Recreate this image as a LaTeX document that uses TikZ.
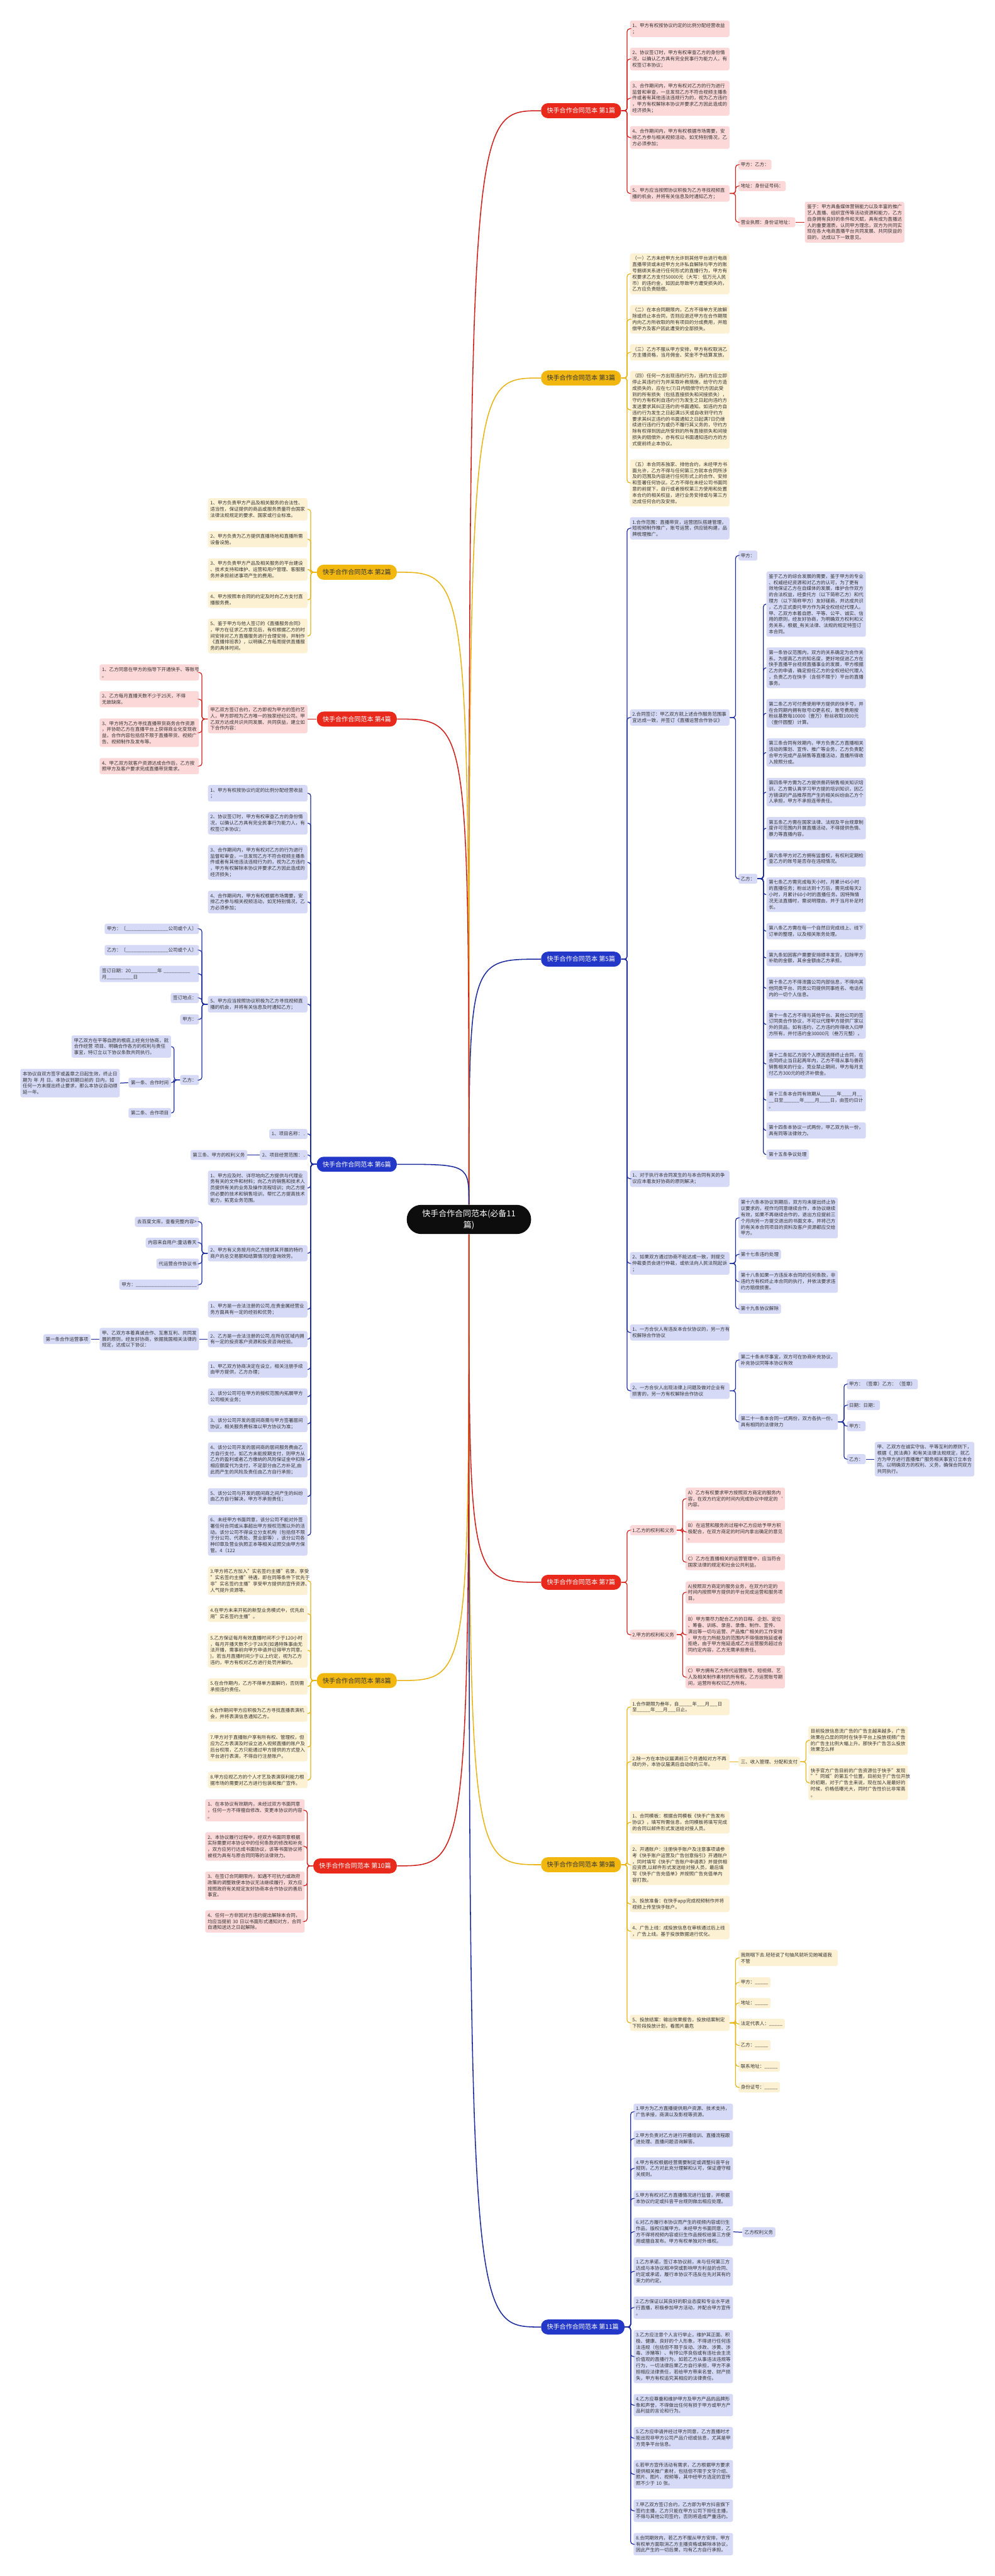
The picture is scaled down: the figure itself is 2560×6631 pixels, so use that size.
\documentclass[tikz,border=0pt]{standalone}
\usepackage{fontspec}
\setmainfont{Noto Sans CJK SC}
\definecolor{ink}{HTML}{333333}
\definecolor{redhead}{HTML}{E8291C}
\definecolor{yellowhead}{HTML}{F1B70E}
\definecolor{bluehead}{HTML}{2338C8}
\definecolor{redline}{HTML}{D0201C}
\definecolor{yellowline}{HTML}{E9B516}
\definecolor{blueline}{HTML}{1C2C9E}
\definecolor{redfill}{HTML}{FCD8D8}
\definecolor{yellowfill}{HTML}{FDF1D3}
\definecolor{bluefill}{HTML}{D6DAF7}
\begin{document}
\begin{tikzpicture}[x=0.1mm, y=-0.1mm,
  every node/.style={text=ink, font=\fontsize{3.47pt}{4.5pt}\selectfont},
  leaf/.style={rounded corners=0.5mm, text width=24.4mm, align=left, inner xsep=0.6mm, inner ysep=0.72mm},
  tag/.style={rounded corners=0.5mm, align=left, inner xsep=0.6mm, inner ysep=0.72mm},
  hdr/.style={rounded corners=1.75mm, minimum height=3.5mm, inner xsep=1.5mm, font=\fontsize{4.64pt}{5.5pt}\selectfont},
  root/.style={fill=black!95, text=white, rounded corners=3.7mm, minimum width=32mm, minimum height=7.5mm, align=center, font=\fontsize{5.97pt}{8.25pt}\selectfont},
  rh/.style={fill=redhead, text=white}, yh/.style={fill=yellowhead, text=ink}, bh/.style={fill=bluehead, text=white},
  rf/.style={fill=redfill}, yf/.style={fill=yellowfill}, bf/.style={fill=bluefill},
  rl/.style={draw=redline, line width=0.2mm, rounded corners=0.7mm},
  yl/.style={draw=yellowline, line width=0.2mm, rounded corners=0.7mm},
  bl/.style={draw=blueline, line width=0.2mm, rounded corners=0.7mm}]
\fill[white] (0,0) rectangle (2560,6631);
\useasboundingbox (0,0) rectangle (2560,6631);

\node[root] (root) at (1207,3139) {快手合作合同范本(必备11\\篇)};

% headers
\node[hdr, rh, anchor=west] (h1) at (1392,285) {快手合作合同范本 第1篇};
\node[hdr, yh, anchor=west] (h3) at (1392,973) {快手合作合同范本 第3篇};
\node[hdr, bh, anchor=west] (h5) at (1392,2469) {快手合作合同范本 第5篇};
\node[hdr, rh, anchor=west] (h7) at (1392,4073) {快手合作合同范本 第7篇};
\node[hdr, yh, anchor=west] (h9) at (1392,4800) {快手合作合同范本 第9篇};
\node[hdr, bh, anchor=west] (h11) at (1392,5990) {快手合作合同范本 第11篇};
\node[hdr, yh, anchor=east] (h2) at (1022,1473) {快手合作合同范本 第2篇};
\node[hdr, rh, anchor=east] (h4) at (1022,1851) {快手合作合同范本 第4篇};
\node[hdr, bh, anchor=east] (h6) at (1022,2997) {快手合作合同范本 第6篇};
\node[hdr, yh, anchor=east] (h8) at (1022,4326) {快手合作合同范本 第8篇};
\node[hdr, rh, anchor=east] (h10) at (1022,4803) {快手合作合同范本 第10篇};

\draw[redline, line width=0.25mm] (root.north) .. controls (root.north |- h1.west) .. (h1.west);
\draw[yellowline, line width=0.25mm] (root.north) .. controls (root.north |- h3.west) .. (h3.west);
\draw[blueline, line width=0.25mm] (root.north) .. controls (root.north |- h5.west) .. (h5.west);
\draw[redline, line width=0.25mm] (root.south) .. controls (root.south |- h7.west) .. (h7.west);
\draw[yellowline, line width=0.25mm] (root.south) .. controls (root.south |- h9.west) .. (h9.west);
\draw[blueline, line width=0.25mm] (root.south) .. controls (root.south |- h11.west) .. (h11.west);
\draw[yellowline, line width=0.25mm] (root.north) .. controls (root.north |- h2.east) .. (h2.east);
\draw[redline, line width=0.25mm] (root.north) .. controls (root.north |- h4.east) .. (h4.east);
\draw[blueline, line width=0.25mm] (root.north) .. controls (root.north |- h6.east) .. (h6.east);
\draw[yellowline, line width=0.25mm] (root.south) .. controls (root.south |- h8.east) .. (h8.east);
\draw[redline, line width=0.25mm] (root.south) .. controls (root.south |- h10.east) .. (h10.east);

% 第1篇
\node[leaf, rf, anchor=west] (a1) at (1621,74) {1、甲方有权按协议约定的比例分配经营收益\\；};
\node[leaf, rf, anchor=west] (a2) at (1621,152) {2、协议签订时，甲方有权审查乙方的身份情\\况，以确认乙方具有完全民事行为能力人，有\\权签订本协议；};
\node[leaf, rf, anchor=west] (a3) at (1621,253) {3、合作期间内，甲方有权对乙方的行为进行\\监督和审查，一旦发现乙方不符合视频主播条\\件或者有其他违法违规行为的，视为乙方违约\\，甲方有权解除本协议并要求乙方因此造成的\\经济损失；};
\node[leaf, rf, anchor=west] (a4) at (1621,354) {4、合作期间内，甲方有权根据市场需要，安\\排乙方参与相关视频活动，如无特别情况，乙\\方必须参加；};
\node[leaf, rf, anchor=west] (a5) at (1621,498) {5、甲方应当按照协议积极为乙方寻找视频直\\播的机会，并将有关信息及时通知乙方；};
\node[tag, rf, anchor=west] (a51) at (1900,424) {甲方：乙方：};
\node[tag, rf, anchor=west] (a52) at (1900,479) {地址：身份证号码：};
\node[tag, rf, anchor=west] (a53) at (1900,572) {营业执照：身份证地址：};
\node[leaf, rf, anchor=west] (a531) at (2071,572) {鉴于：甲方具备媒体营销能力以及丰富的推广\\艺人直播、组织宣传等活动资源和能力，乙方\\自身拥有良好的条件和天赋，具有成为直播达\\人的重要潜质，认同甲方理念，双方为共同实\\现在各大电商直播平台共同发展、共同获益的\\目的，达成以下一致意见。};
\foreach \c in {a1,a2,a3,a4,a5} \draw[rl] (h1.east) -- ++(1.5mm,0) |- (\c.west);
\foreach \c in {a51,a52,a53} \draw[rl] (a5.east) -- ++(1.5mm,0) |- (\c.west);
\draw[rl] (a53.east) -- (a531.west);

% 第3篇
\node[leaf, yf, anchor=west] (b1) at (1621,705) {（一）乙方未经甲方允许到其他平台进行电商\\直播带货或未经甲方允许私自解除与甲方的账\\号捆绑关系进行任何形式的直播行为，甲方有\\权要求乙方支付50000元（大写：伍万元人民\\币）的违约金，如因此导致甲方遭受损失的，\\乙方应负责赔偿。};
\node[leaf, yf, anchor=west] (b2) at (1621,822) {（二）在本合同期限内，乙方不得单方无故解\\除或终止本合同，否则应退还甲方在合作期限\\内向乙方所收取的所有项目的分成费用，并赔\\偿甲方及客户因此遭受的全部损失。};
\node[leaf, yf, anchor=west] (b3) at (1621,907) {（三）乙方不服从甲方安排，甲方有权取消乙\\方主播资格，当月佣金、奖金不予结算发放。};
\node[leaf, yf, anchor=west] (b4) at (1621,1055) {（四）任何一方出现违约行为，违约方应立即\\停止其违约行为并采取补救措施，给守约方造\\成损失的，应在七(7)日内赔偿守约方因此受\\到的所有损失（包括直接损失和间接损失），\\守约方有权利自违约行为发生之日起向违约方\\发送要求其纠正违约的书面通知。如违约方自\\违约行为发生之日起满15天或自收到守约方\\要求其纠正违约的书面通知之日起满7日仍继\\续进行违约行为或仍不履行其义务的，守约方\\除有权得到因此所受到的所有直接损失和间接\\损失的赔偿外，亦有权以书面通知违约方的方\\式提前终止本协议。};
\node[leaf, yf, anchor=west] (b5) at (1621,1243) {（五）本合同系独家、排他合约，未经甲方书\\面允许，乙方不得与任何第三方就本合同所涉\\及的范围及内容进行任何形式上的合作、安排\\和签署任何协议。乙方不得在未经公司书面同\\意的前提下，自行或者授权第三方使用和处置\\本合约的相关权益，进行业务安排或与第三方\\达成任何合约及安排。};
\foreach \c in {b1,b2,b3,b4,b5} \draw[yl] (h3.east) -- ++(1.5mm,0) |- (\c.west);

% 第5篇
\node[leaf, bf, anchor=west] (c1) at (1621,1360) {1.合作范围：直播带货，运营团队搭建管理，\\短视频制作推广，账号运营，供应链构建，品\\牌梳理推广。};
\node[leaf, bf, anchor=west] (c2) at (1621,1847) {2.合同签订：甲乙双方就上述合作服务范围事\\宜达成一致，并签订《直播运营合作协议》};
\node[leaf, bf, anchor=west] (c3) at (1621,3034) {1、对于执行本合同发生的与本合同有关的争\\议应本着友好协商的原则解决；};
\node[leaf, bf, anchor=west] (c4) at (1621,3252) {2、如果双方通过协商不能达成一致，则提交\\仲裁委员会进行仲裁，或依法向人民法院起诉\\；};
\node[leaf, bf, anchor=west] (c5) at (1621,3430) {1、一方合伙人有违反本合伙协议的，另一方有\\权解除合作协议};
\node[leaf, bf, anchor=west] (c6) at (1621,3580) {2、一方合伙人出现法律上问题及做对企业有\\损害的，另一方有权解除合作协议};
\node[tag, bf, anchor=west] (c21) at (1900,1430) {甲方：};
\node[tag, bf, anchor=west] (c22) at (1900,2262) {乙方：};
\node[leaf, bf, anchor=west] (k0) at (1972,1555) {鉴于乙方的综合发展的需要，鉴于甲方的专业\\、权威经纪资源和对乙方的认可，为了更有\\效地保证乙方在自媒体的发展，维护合作双方\\的合法权益，经委托方（以下简称乙方）和代\\理方（以下简称甲方）友好磋商，并达成共识\\，乙方正式委托甲方作为其全权经纪代理人。\\甲、乙双方本着自愿、平等、公平、诚实、信\\用的原则，经友好协商，为明确双方权利和义\\务关系，根据\_有关法律、法规的规定特签订\\本合同。};
\node[leaf, bf, anchor=west] (k1) at (1972,1719) {第一条协议范围内，双方的关系确定为合作关\\系。为提高乙方的知名度，更好地促进乙方在\\快手直播平台视频直播事业的发展，甲方根据\\乙方的申请，确定担任乙方的全权经纪代理人\\，负责乙方在快手（含但不限于）平台的直播\\事务。};
\node[leaf, bf, anchor=west] (k2) at (1972,1836) {第二条乙方可付费使用甲方提供的快手号，并\\在合同期内拥有账号ID更名权，账号费用按\\粉丝基数每10000（壹万）粉丝收取1000元\\（壹仟圆整）计算。};
\node[leaf, bf, anchor=west] (k3) at (1972,1937) {第三条合同有效期内，甲方负责乙方直播相关\\活动的策划、宣传、推广等业务，乙方负责配\\合甲方完成产品销售等直播活动，直播所得收\\入按照分成。};
\node[leaf, bf, anchor=west] (k4) at (1972,2039) {第四条甲方需为乙方提供兽药销售相关知识培\\训，乙方需认真学习甲方提的培训知识，因乙\\方错误的产品推荐而产生的相关纠纷由乙方个\\人承担，甲方不承担连带责任。};
\node[leaf, bf, anchor=west] (k5) at (1972,2132) {第五条乙方需在国家法律、法规及平台规章制\\度许可范围内开展直播活动，不得提供色情、\\暴力等直播内容。};
\node[leaf, bf, anchor=west] (k6) at (1972,2210) {第六条甲方对乙方拥有监督权，有权利定期检\\查乙方的账号是否存在违规情况。};
\node[leaf, bf, anchor=west] (k7) at (1972,2303) {第七条乙方需完成每天小时，月累计45小时\\的直播任务；粉丝达到十万后，需完成每天2\\小时，月累计60小时的直播任务。因特殊情\\况无法直播时，需说明理由，并于当月补足时\\长。};
\node[leaf, bf, anchor=west] (k8) at (1972,2397) {第八条乙方需在每一个自然日完成线上、线下\\订单的整理，以及相关账务处理。};
\node[leaf, bf, anchor=west] (k9) at (1972,2466) {第九条如因客户需要安排顺丰发货，扣除甲方\\补助的金额，其余金额由乙方承担。};
\node[leaf, bf, anchor=west] (k10) at (1972,2544) {第十条乙方不得泄露公司内部信息，不得向其\\他同类平台、同类公司提供同事姓名、电话在\\内的一切个人信息。};
\node[leaf, bf, anchor=west] (k11) at (1972,2637) {第十一条乙方不得与其他平台、其他公司的签\\订同类合作协议，不可以代理甲方提供厂家以\\外的货品，如有违约，乙方违约所得收入归甲\\方所有，并付违约金30000元（叁万元整）。};
\node[leaf, bf, anchor=west] (k12) at (1972,2739) {第十二条如乙方因个人原因选择终止合同，在\\合同终止当日起两年内，乙方不得从事与兽药\\销售相关的行业，竞业禁止期间，甲方每月支\\付乙方300元的经济补偿金。};
\node[leaf, bf, anchor=west] (k13) at (1972,2832) {第十三条本合同有效期从\_\_\_\_\_\_年\_\_\_\_月\_\_\\\_\_日至\_\_\_\_\_\_年\_\_\_\_月\_\_\_\_日，由签约日计\\。};
\node[leaf, bf, anchor=west] (k14) at (1972,2910) {第十四条本协议一式两份，甲乙双方执一份，\\具有同等法律效力。};
\node[tag, bf, anchor=west] (k15) at (1972,2972) {第十五条争议处理};
\node[leaf, bf, anchor=west] (c41) at (1900,3135) {第十六条本协议到期后，双方均未提出终止协\\议要求的，视作均同意继续合作，本协议继续\\有效，如果不再继续合作的，退出方应提前三\\个月向另一方提交退出的书面文本，并将己方\\的有关本合同项目的资料及客户资源都应交给\\甲方。};
\node[tag, bf, anchor=west] (c42) at (1900,3229) {第十七条违约处理};
\node[leaf, bf, anchor=west] (c43) at (1900,3299) {第十八条如果一方违反本合同的任何条款，非\\违约方有权终止本合同的执行，并依法要求违\\约方赔偿损害。};
\node[tag, bf, anchor=west] (c44) at (1900,3369) {第十九条协议解除};
\node[leaf, bf, anchor=west] (c61) at (1900,3501) {第二十条未尽事宜，双方可在协商补充协议，\\补充协议同等本协议有效};
\node[leaf, bf, anchor=west] (c62) at (1900,3660) {第二十一条本合同一式两份，双方各执一份，\\具有相同的法律效力};
\node[tag, bf, anchor=west] (c621) at (2179,3563) {甲方：（签章）乙方：（签章）};
\node[tag, bf, anchor=west] (c622) at (2179,3617) {日期：日期：};
\node[tag, bf, anchor=west] (c623) at (2179,3671) {甲方：};
\node[tag, bf, anchor=west] (c624) at (2179,3756) {乙方：};
\node[leaf, bf, anchor=west] (c6241) at (2251,3756) {甲、乙双方在诚实守信、平等互利的原则下，\\根据《\_民法典》和有关法律法规规定，就乙\\方为甲方进行直播推广服务相关事宜订立本合\\同，以明确双方的权利、义务，确保合同双方\\共同执行。};
\foreach \c in {c1,c2,c3,c4,c5,c6} \draw[bl] (h5.east) -- ++(1.5mm,0) |- (\c.west);
\foreach \c in {c21,c22} \draw[bl] (c2.east) -- ++(1.5mm,0) |- (\c.west);
\foreach \c in {k0,k1,k2,k3,k4,k5,k6,k7,k8,k9,k10,k11,k12,k13,k14,k15} \draw[bl] (c22.east) -- ++(1.5mm,0) |- (\c.west);
\foreach \c in {c41,c42,c43,c44} \draw[bl] (c4.east) -- ++(1.5mm,0) |- (\c.west);
\foreach \c in {c61,c62} \draw[bl] (c6.east) -- ++(1.5mm,0) |- (\c.west);
\foreach \c in {c621,c622,c623,c624} \draw[bl] (c62.east) -- ++(1.5mm,0) |- (\c.west);
\draw[bl] (c624.east) -- (c6241.west);

% 第7篇
\node[tag, rf, anchor=west] (d1) at (1621,3939) {1.乙方的权利和义务};
\node[tag, rf, anchor=west] (d2) at (1621,4208) {2.甲方的权利和义务};
\node[leaf, rf, anchor=west] (d11) at (1764,3858) {A）乙方有权要求甲方按照双方商定的服务内\\容，在双方约定的时间内完成协议中规定的`\\内容。};
\node[leaf, rf, anchor=west] (d12) at (1764,3943) {B）在运营和服务的过程中乙方应给予甲方积\\极配合，在双方商定的时间内拿出确定的意见\\。};
\node[leaf, rf, anchor=west] (d13) at (1764,4021) {C）乙方在直播相关的运营管理中，应当符合\\国家法律的规定和社会公共利益。};
\node[leaf, rf, anchor=west] (d21) at (1764,4099) {A)按照双方商定的服务业务，在双方约定的\\时间内按照甲方提供的平台完成运营和服务项\\目。};
\node[leaf, rf, anchor=west] (d22) at (1764,4208) {B）甲方需尽力配合乙方的日程、企划、定位\\、筹备、训练、录音、录像、制作、宣传、\\演出等一切与运营、产品推广相关的工作安排\\，甲方在力所能及的范围内不得借故拖延或者\\拒绝，由于甲方拖延造成乙方运营服务超过合\\同约定内容，乙方无需承担责任。};
\node[leaf, rf, anchor=west] (d23) at (1764,4317) {C）甲方拥有乙方所代运营账号、短视频、艺\\人及相关制作素材的所有权，乙方运营账号期\\间，运营所有权归乙方所有。};
\foreach \c in {d1,d2} \draw[rl] (h7.east) -- ++(1.5mm,0) |- (\c.west);
\foreach \c in {d11,d12,d13} \draw[rl] (d1.east) -- ++(1.5mm,0) |- (\c.west);
\foreach \c in {d21,d22,d23} \draw[rl] (d2.east) -- ++(1.5mm,0) |- (\c.west);

% 第9篇
\node[leaf, yf, anchor=west] (e1) at (1621,4394) {1.合作期限为叁年，自\_\_\_\_\_年\_\_\_月\_\_\_日\\至\_\_\_\_\_年\_\_\_月\_\_\_日止。};
\node[leaf, yf, anchor=west] (e2) at (1621,4535) {2.除一方在本协议届满前三个月通知对方不再\\续约外，本协议届满后自动续约三年。};
\node[leaf, yf, anchor=west] (e3) at (1621,4691) {1、合同模板：根据合同模板《快手广告发布\\协议》，填写所需信息，合同模板将填写完成\\的合同以邮件形式发送给对接人员。};
\node[leaf, yf, anchor=west] (e4) at (1621,4800) {2、开通账户：注册快手账户及注意事项请参\\考《快手账户运营及广告创意指引》开通账户\\，同时填写《快手广告账户申请表》并提供相\\应资质,以邮件形式发送给对接人员，最后填\\写《快手广告充值单》并按照广告充值单内\\容打款。};
\node[leaf, yf, anchor=west] (e5) at (1621,4901) {3、投放准备：在快手app完成视频制作并将\\视频上传至快手账户。};
\node[leaf, yf, anchor=west] (e6) at (1621,4971) {4、广告上线：成投放信息在审核通过后上线\\，广告上线。基于投放数据进行优化。};
\node[leaf, yf, anchor=west] (e7) at (1621,5207) {5、投放结案：输出效果报告，投放结案制定\\下阶段投放计划，看图片嘉危};
\node[tag, yf, anchor=west] (e21) at (1900,4535) {三、收入管理、分配和支付};
\node[leaf, yf, anchor=west] (e211) at (2080,4480) {目前投放信息流广告的广告主越来越多，广告\\效果在凸显的同时在快手平台上投放视频广告\\的广告主比例大幅上升。那快手广告怎么投放\\效果怎么样};
\node[leaf, yf, anchor=west] (e212) at (2080,4589) {快手官方广告目前的广告资源位于快手"发现\\""同城"的第五个位置，目前处于广告位开放\\的初期，对于广告主来说，现在加入是最好的\\时候，价格低曝光大，同时广告性价比非常高\\。};
\node[leaf, yf, anchor=west] (e71) at (1900,5040) {我刚咽下去.轻轻说了句抽风就听见她喊道我\\不管};
\node[tag, yf, anchor=west] (e72) at (1900,5103) {甲方：\_\_\_\_\_};
\node[tag, yf, anchor=west] (e73) at (1900,5156) {地址：\_\_\_\_\_};
\node[tag, yf, anchor=west] (e74) at (1900,5210) {法定代表人：\_\_\_\_\_};
\node[tag, yf, anchor=west] (e75) at (1900,5265) {乙方：\_\_\_\_\_};
\node[tag, yf, anchor=west] (e76) at (1900,5319) {联系地址：\_\_\_\_\_};
\node[tag, yf, anchor=west] (e77) at (1900,5373) {身份证号：\_\_\_\_\_};
\foreach \c in {e1,e2,e3,e4,e5,e6,e7} \draw[yl] (h9.east) -- ++(1.5mm,0) |- (\c.west);
\draw[yl] (e2.east) -- (e21.west);
\foreach \c in {e211,e212} \draw[yl] (e21.east) -- ++(1.5mm,0) |- (\c.west);
\foreach \c in {e71,e72,e73,e74,e75,e76,e77} \draw[yl] (e7.east) -- ++(1.5mm,0) |- (\c.west);

% 第11篇
\node[leaf, bf, anchor=west] (f1) at (1630,5436) {1.甲方为乙方直播提供用户资源、技术支持，\\广告承接，商演以及影视等资源。};
\node[leaf, bf, anchor=west] (f2) at (1630,5505) {2.甲方负责对乙方进行开播培训、直播流程跟\\进处理、直播问题咨询解答。};
\node[leaf, bf, anchor=west] (f3) at (1630,5582) {4.甲方有权根据经营需要制定或调整抖音平台\\规则，乙方对此充分理解和认可，保证遵守相\\关规则。};
\node[leaf, bf, anchor=west] (f4) at (1630,5659) {5.甲方有权对乙方直播情况进行监督，并根据\\本协议约定或抖音平台规则做出相应处理。};
\node[leaf, bf, anchor=west] (f5) at (1630,5745) {6.对乙方履行本协议而产生的视频内容或衍生\\作品，版权归属甲方。未经甲方书面同意，乙\\方不得将视频内容或衍生作品授权给第三方使\\用或擅自发布。甲方有权单独对外维权。};
\node[leaf, bf, anchor=west] (f6) at (1630,5847) {1.乙方承诺，签订本协议前，未与任何第三方\\达成与本协议相冲突或影响甲方利益的合同、\\约定或承诺，履行本协议不违反在先对其有约\\束力的约定。};
\node[leaf, bf, anchor=west] (f7) at (1630,5940) {2.乙方保证以其良好的职业态度和专业水平进\\行直播，积极参加甲方活动，并配合甲方宣传\\。};
\node[leaf, bf, anchor=west] (f8) at (1630,6066) {3.乙方应注意个人言行举止，维护其正面、积\\极、健康、良好的个人形象，不得进行任何违\\法违规（包括但不限于反动、涉政、涉黄、涉\\毒、涉赌等）、有悖公序良俗或有违社会主流\\价值观的直播行为。如若乙方从事违法违规等\\行为，一切法律后果乙方自行承担，甲方不承\\担相应法律责任，若给甲方带来名誉、财产损\\失，甲方有权追究其相应的法律责任。};
\node[leaf, bf, anchor=west] (f9) at (1630,6191) {4.乙方应尊重和维护甲方及甲方产品的品牌形\\象和声誉，不得做出任何有损于甲方或甲方产\\品利益的言论和行为。};
\node[leaf, bf, anchor=west] (f10) at (1630,6276) {5.乙方应申请并经过甲方同意，乙方直播时才\\能出现非甲方公司产品介绍或信息，尤其是甲\\方竞争平台信息。};
\node[leaf, bf, anchor=west] (f11) at (1630,6369) {6.若甲方宣传活动有需求，乙方根据甲方要求\\提供相关推广素材，包括但不限于文字介绍、\\照片、图片、视频等，其中经甲方选定的宣传\\照不少于 10 张。};
\node[leaf, bf, anchor=west] (f12) at (1630,6463) {7.甲乙双方签订合约，乙方即为甲方抖音旗下\\签约主播，乙方只能在甲方公司下担任主播，\\不得与其他公司签约，否则将造成严重违约。};
\node[leaf, bf, anchor=west] (f13) at (1630,6549) {8.合同期效内，若乙方不服从甲方安排，甲方\\有权单方面取消乙方主播资格或解除本协议，\\因此产生的一切后果，均有乙方自行承担。};
\node[tag, bf, anchor=west] (f51) at (1910,5746) {乙方权利义务};
\foreach \c in {f1,f2,f3,f4,f5,f6,f7,f8,f9,f10,f11,f12,f13} \draw[bl] (h11.east) -- ++(1.5mm,0) |- (\c.west);
\draw[bl] (f5.east) -- (f51.west);

% 第2篇
\node[leaf, yf, anchor=east] (g1) at (792,1311) {1、甲方负责甲方产品及相关服务的合法性、\\适当性，保证提供的商品或服务质量符合国家\\法律法规规定的要求、国家或行业标准。};
\node[leaf, yf, anchor=east] (g2) at (792,1388) {2、甲方负责为乙方提供直播场地和直播所需\\设备设施。};
\node[leaf, yf, anchor=east] (g3) at (792,1466) {3、甲方负责甲方产品及相关服务的平台建设\\、技术支持和维护、运营和用户管理、客服服\\务并承担前述事项产生的费用。};
\node[leaf, yf, anchor=east] (g4) at (792,1544) {4、甲方按照本合同的约定及时向乙方支付直\\播服务费。};
\node[leaf, yf, anchor=east] (g5) at (792,1637) {5、鉴于甲方与他人签订的《直播服务合同》\\，甲方在征求乙方意见后，有权根据乙方的时\\间安排对乙方直播服务进行合理安排，并制作\\《直播排班表》，以明确乙方每周提供直播服\\务的具体时间。};
\foreach \c in {g1,g2,g3,g4,g5} \draw[yl] (h2.west) -- ++(-1.5mm,0) |- (\c.east);

% 第4篇
\node[leaf, rf, anchor=east] (m1) at (792,1851) {甲乙双方签订合约，乙方即视为甲方的签约艺\\人，甲方即视为乙方唯一的独家经纪公司。甲\\乙双方达成共识共同发展、共同获益，建立如\\下合作内容：};
\node[leaf, rf, anchor=east] (m11) at (513,1731) {1、乙方同意在甲方的指导下开通快手、等账号\\。};
\node[leaf, rf, anchor=east] (m12) at (513,1800) {2、乙方每月直播天数不少于25天，不得\\无故缺席。};
\node[leaf, rf, anchor=east] (m13) at (513,1886) {3、甲方将为乙方寻找直播带货商务合作资源\\，并协助乙方在直播平台上获得商业化变现收\\益，合作内容包括但不限于直播带货、视频广\\告、视频制作及发布等。};
\node[leaf, rf, anchor=east] (m14) at (513,1972) {4、甲乙双方就客户资源达成合作后，乙方按\\照甲方及客户要求完成直播带货需求。};
\draw[rl] (h4.west) -- (m1.east);
\foreach \c in {m11,m12,m13,m14} \draw[rl] (m1.west) -- ++(-1.5mm,0) |- (\c.east);

% 第6篇
\node[leaf, bf, anchor=east] (j1) at (792,2042) {1、甲方有权按协议约定的比例分配经营收益\\；};
\node[leaf, bf, anchor=east] (j2) at (792,2119) {2、协议签订时，甲方有权审查乙方的身份情\\况，以确认乙方具有完全民事行为能力人，有\\权签订本协议；};
\node[leaf, bf, anchor=east] (j3) at (792,2220) {3、合作期间内，甲方有权对乙方的行为进行\\监督和审查，一旦发现乙方不符合视频主播条\\件或者有其他违法违规行为的，视为乙方违约\\，甲方有权解除本协议并要求乙方因此造成的\\经济损失；};
\node[leaf, bf, anchor=east] (j4) at (792,2322) {4、合作期间内，甲方有权根据市场需要，安\\排乙方参与相关视频活动，如无特别情况，乙\\方必须参加；};
\node[leaf, bf, anchor=east] (j5) at (792,2585) {5、甲方应当按照协议积极为乙方寻找视频直\\播的机会，并将有关信息及时通知乙方；};
\node[tag, bf, anchor=east] (j6) at (792,2919) {1、项目名称：\ .};
\node[tag, bf, anchor=east] (j7) at (792,2973) {2、项目经营范围：\ .};
\node[leaf, bf, anchor=east] (j8) at (792,3058) {1、甲方应及时、详尽地向乙方提供与代理业\\务有关的文件和材料；向乙方的销售和技术人\\员提供有关的业务及操作流程培训；向乙方提\\供必要的技术和销售培训，帮忙乙方提高技术\\能力，拓宽业务范围。};
\node[leaf, bf, anchor=east] (j9) at (792,3226) {2、甲方有义务按月向乙方提供其开展的特约\\商户的总交易额和结算情况的查询效劳。};
\node[leaf, bf, anchor=east] (j10) at (792,3370) {1、甲方是一合法注册的公司,在贵金属经营业\\务方面具有一定的经验和优势；};
\node[leaf, bf, anchor=east] (j11) at (792,3447) {2、乙方是一合法注册的公司,在所在区域内拥\\有一定的投资客户资源和投资咨询经验。};
\node[leaf, bf, anchor=east] (j12) at (792,3525) {1、甲乙双方协商决定在设立，相关注册手续\\由甲方提供，乙方办理；};
\node[leaf, bf, anchor=east] (j13) at (792,3595) {2、该分公司可在甲方的授权范围内拓展甲方\\公司相关业务；};
\node[leaf, bf, anchor=east] (j14) at (792,3665) {3、该分公司开发的居间商需与甲方签署居间\\协议，相关服务费标准以甲方协议为准；};
\node[leaf, bf, anchor=east] (j15) at (792,3758) {4、该分公司开发的居间商的居间服务费由乙\\方自行支付。如乙方未能按期支付，则甲方从\\乙方的盈利或者乙方缴纳的风险保证金中扣除\\相应额度代为支付，不足部分由乙方补足,由\\此而产生的风险及责任由乙方自行承担；};
\node[leaf, bf, anchor=east] (j16) at (792,3852) {5、该分公司与开发的居间商之间产生的纠纷\\由乙方自行解决，甲方不承担责任；};
\node[leaf, bf, anchor=east] (j17) at (792,3952) {6、未经甲方书面同意，该分公司不能对外签\\署任何合同或从事超出甲方授权范围以外的活\\动。该分公司不得设立分支机构（包括但不限\\于分公司、代表处、营业部等），该分公司各\\种印章及营业执照正本等相关证照交由甲方保\\管。4（122};
\node[tag, bf, anchor=east] (j51) at (513,2391) {甲方：〔\_\_\_\_\_\_\_\_\_\_\_\_\_\_\_\_公司或个人〕};
\node[tag, bf, anchor=east] (j52) at (513,2446) {乙方：〔\_\_\_\_\_\_\_\_\_\_\_\_\_\_\_\_公司或个人〕};
\node[leaf, bf, anchor=east] (j53) at (513,2507) {签订日期：20\_\_\_\_\_\_\_\_\_\_年\ \_\_\_\_\_\_\_\_\_\_\\月\_\_\_\_\_\_\_\_\_\_日};
\node[tag, bf, anchor=east] (j54) at (513,2569) {签订地点：};
\node[tag, bf, anchor=east] (j55) at (513,2624) {甲方：};
\node[tag, bf, anchor=east] (j56) at (513,2780) {乙方：};
\node[leaf, bf, anchor=east] (j561) at (441,2694) {甲乙双方在平等自愿的根底上经充分协商，就\\合作经营 项目、明确合作各方的权利与责任\\事宜，特订立以下协议条款共同执行。};
\node[tag, bf, anchor=east] (j562) at (441,2787) {第一条、合作时间};
\node[tag, bf, anchor=east] (j563) at (441,2865) {第二条、合作项目};
\node[leaf, bf, anchor=east] (j5621) at (309,2788) {本协议自双方签字或盖章之日起生效，终止日\\期为 年 月 日。本协议到期日前的 日内，如\\任何一方未提出终止要求，那么本协议自动顺\\延一年。};
\node[tag, bf, anchor=east] (j71) at (637,2973) {第三条、甲方的权利义务};
\node[tag, bf, anchor=east] (j91) at (513,3145) {去百度文库，查看完整内容>};
\node[tag, bf, anchor=east] (j92) at (513,3199) {内容来自用户:童话春天};
\node[tag, bf, anchor=east] (j93) at (513,3253) {代运营合作协议书};
\node[tag, bf, anchor=east] (j94) at (513,3307) {甲方：\_\_\_\_\_\_\_\_\_\_\_\_\_\_\_\_\_\_\_\_\_\_\_};
\node[leaf, bf, anchor=east] (j111) at (513,3447) {甲、乙双方本着真诚合作、互惠互利、共同发\\展的原则，经友好协商，依据我国相关法律的\\规定，达成以下协议：};
\node[tag, bf, anchor=east] (j1111) at (234,3447) {第一条合作运营事项};
\foreach \c in {j1,j2,j3,j4,j5,j6,j7,j8,j9,j10,j11,j12,j13,j14,j15,j16,j17} \draw[bl] (h6.west) -- ++(-1.5mm,0) |- (\c.east);
\foreach \c in {j51,j52,j53,j54,j55,j56} \draw[bl] (j5.west) -- ++(-1.5mm,0) |- (\c.east);
\foreach \c in {j561,j562,j563} \draw[bl] (j56.west) -- ++(-1.5mm,0) |- (\c.east);
\draw[bl] (j562.west) -- (j5621.east);
\draw[bl] (j7.west) -- (j71.east);
\foreach \c in {j91,j92,j93,j94} \draw[bl] (j9.west) -- ++(-1.5mm,0) |- (\c.east);
\draw[bl] (j11.west) -- (j111.east);
\draw[bl] (j111.west) -- (j1111.east);

% 第8篇
\node[leaf, yf, anchor=east] (n1) at (792,4069) {3.甲方将乙方加入"实名签约主播"名录，享受\\"实名签约主播"待遇，即在同等条件下优先于\\非"实名签约主播"享受甲方提供的宣传资源、\\人气提升资源等。};
\node[leaf, yf, anchor=east] (n2) at (792,4154) {4.在甲方未来开拓的新型业务模式中，优先启\\用"实名签约主播"。};
\node[leaf, yf, anchor=east] (n3) at (792,4248) {5.乙方保证每月有效直播时间不少于120小时\\，每月开播天数不少于28天(如遇特殊事由无\\法开播，需事前向甲方申请并征得甲方同意。\\)，若当月直播时间少于以上约定，视为乙方\\违约，甲方有权对乙方进行处罚并解约。};
\node[leaf, yf, anchor=east] (n4) at (792,4341) {5.在合作期内，乙方不得单方面解约，否则需\\承担违约责任。};
\node[leaf, yf, anchor=east] (n5) at (792,4411) {6.合作期间甲方应积极为乙方寻找直播表演机\\会，并将表演信息通知乙方。};
\node[leaf, yf, anchor=east] (n6) at (792,4497) {7.甲方对于直播账户享有所有权、管理权，但\\应为乙方表演及时设立进入视频直播的账户及\\后台权限，乙方只能通过甲方提供的方式登入\\平台进行表演，不得自行注册账户。};
\node[leaf, yf, anchor=east] (n7) at (792,4582) {8.甲方应视乙方的个人才艺及表演获利能力根\\据市场的需要对乙方进行包装和推广宣传。};
\foreach \c in {n1,n2,n3,n4,n5,n6,n7} \draw[yl] (h8.west) -- ++(-1.5mm,0) |- (\c.east);

% 第10篇
\node[leaf, rf, anchor=east] (p1) at (785,4660) {1、在本协议有效期内，未经过双方书面同意\\，任何一方不得擅自修改、变更本协议的内容\\。};
\node[leaf, rf, anchor=east] (p2) at (785,4753) {2、本协议履行过程中，经双方书面同意根据\\实际需要对本协议中的任何条款的修改和补充\\，双方应另行达成书面协议，该等书面协议将\\被视为具有与原合同同等的法律效力。};
\node[leaf, rf, anchor=east] (p3) at (785,4854) {3、在签订合同期限内，如遇不可抗力或政府\\政策的调整致使本协议无法继续履行，双方应\\按照政府有关规定友好协商本合作协议的善后\\事宜。};
\node[leaf, rf, anchor=east] (p4) at (785,4946) {4、任何一方非因对方违约提出解除本合同，\\均应当提前 30 日以书面形式通知对方，合同\\自通知送达之日起解除。};
\foreach \c in {p1,p2,p3,p4} \draw[rl] (h10.west) -- ++(-1.5mm,0) |- (\c.east);
\end{tikzpicture}
\end{document}
